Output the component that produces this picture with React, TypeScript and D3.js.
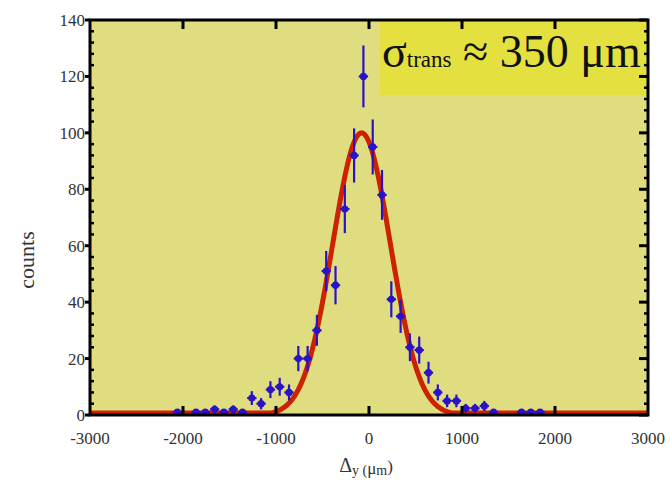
import React from "react";
import * as d3 from "d3";

// ---- data ----
const binCenters = [
  -2060, -1860, -1760, -1660, -1560, -1460, -1360, -1260, -1160, -1060, -960, -860,
  -760, -660, -560, -460, -360, -260, -160, -60, 40, 140, 240, 340, 440, 540, 640,
  740, 840, 940, 1040, 1140, 1240, 1340, 1640, 1740, 1840,
];
const counts = [
  1, 1, 1, 2, 1, 2, 1, 6, 4, 9, 10, 8,
  20, 20, 30, 51, 46, 73, 92, 120, 95, 78, 41, 35, 24, 23, 15,
  8, 5, 5, 2.4, 2.4, 3.2, 1, 1, 1, 1,
];
const binWidth = 100;
const fitAmplitude = 100;
const fitMean = -80;
const fitSigma = 310;
const xTicks = [-3000, -2000, -1000, 0, 1000, 2000, 3000];
const yTicks = [0, 20, 40, 60, 80, 100, 120, 140];
const yMinorStep = 4;

const W = 671;
const H = 489;
const L = 90, R = 648, T = 20, B = 415;

export default function App() {
  const x = d3.scaleLinear().domain([-3000, 3000]).range([L, R]);
  const y = d3.scaleLinear().domain([0, 140]).range([B, T]);
  const gauss = (v: number) =>
    fitAmplitude * Math.exp(-0.5 * ((v - fitMean) / fitSigma) ** 2);
  const fitPts = d3.range(-3000, 3001, 10).map((v) => [v, gauss(v)] as [number, number]);
  const line = d3
    .line<[number, number]>()
    .x((d) => x(d[0]))
    .y((d) => Math.min(y(d[1]), B - 2));
  const minor = d3.range(0, 141, yMinorStep).filter((v) => v % 20 !== 0);
  const blue = "#2a12c8";
  const font = "'Liberation Serif', 'DejaVu Serif', serif";
  return (
    <svg width={W} height={H} style={{ position: "absolute", left: 0, top: 0 }}>
      <rect x={0} y={0} width={W} height={H} fill="#ffffff" />
      <rect x={L} y={T} width={R - L} height={B - T} fill="#e0dd80" />
      {/* fit */}
      <path d={line(fitPts) || ""} fill="none" stroke="#cc2200" strokeWidth={5} strokeLinejoin="round" />
      {/* data */}
      {binCenters.map((c, i) => {
        const n = counts[i];
        const e = Math.sqrt(n);
        const cx = x(c);
        const cy = y(n);
        return (
          <g key={i}>
            <line x1={cx} x2={cx} y1={y(n + e)} y2={Math.min(y(Math.max(n - e, 0)), B)} stroke={blue} strokeWidth={2.2} />
            <line x1={x(c - binWidth / 2)} x2={x(c + binWidth / 2)} y1={cy} y2={cy} stroke={blue} strokeWidth={2.2} />
            <circle cx={cx} cy={cy} r={3.6} fill={blue} />
          </g>
        );
      })}
      {/* legend box */}
      <rect x={380} y={T} width={R - 380} height={75} fill="#e4e040" />
      <text x={382} y={67} fontFamily={font} fontSize={46} fill="#111">
        σ<tspan fontSize={23} dy={0}>trans</tspan>
        <tspan dy={0}> ≈ 350 μm</tspan>
      </text>
      {/* frame */}
      <rect x={L} y={T} width={R - L} height={B - T} fill="none" stroke="#000" strokeWidth={3} />
      {/* x ticks */}
      {xTicks.slice(1, -1).map((t) => (
        <g key={"xt" + t}>
          <line x1={x(t)} x2={x(t)} y1={B} y2={B - 9} stroke="#000" strokeWidth={3} />
          <line x1={x(t)} x2={x(t)} y1={T} y2={T + 9} stroke="#000" strokeWidth={3} />
        </g>
      ))}
      {xTicks.map((t) => (
        <text key={"xl" + t} x={x(t)} y={444} textAnchor="middle" fontFamily={font} fontSize={17} fill="#333">
          {t}
        </text>
      ))}
      {/* y ticks */}
      {yTicks.map((t) => (
        <g key={"yt" + t}>
          <line x1={L - 5} x2={L} y1={y(t)} y2={y(t)} stroke="#000" strokeWidth={3} />
          <line x1={R} x2={R - 9} y1={y(t)} y2={y(t)} stroke="#000" strokeWidth={3} />
          <text x={85} y={y(t) + 6} textAnchor="end" fontFamily={font} fontSize={17} fill="#333">
            {t}
          </text>
        </g>
      ))}
      {minor.map((t) => (
        <g key={"ym" + t}>
          <line x1={L} x2={L + 4} y1={y(t)} y2={y(t)} stroke="#000" strokeWidth={2.5} />
          <line x1={R} x2={R - 4} y1={y(t)} y2={y(t)} stroke="#000" strokeWidth={2.5} />
        </g>
      ))}
      {/* axis titles */}
      <text transform="translate(34,260) rotate(-90)" textAnchor="middle" fontFamily={font} fontSize={22} fill="#333">
        counts
      </text>
      <text x={366} y={472} textAnchor="middle" fontFamily={font} fontSize={20} fill="#333">
        Δ<tspan fontSize={14} dy={3}>y (</tspan>
        <tspan fontSize={17} dy={-1}>μ</tspan>
        <tspan fontSize={14} dy={1}>m</tspan>
        <tspan fontSize={17} dy={-3}>)</tspan>
      </text>
    </svg>
  );
}
